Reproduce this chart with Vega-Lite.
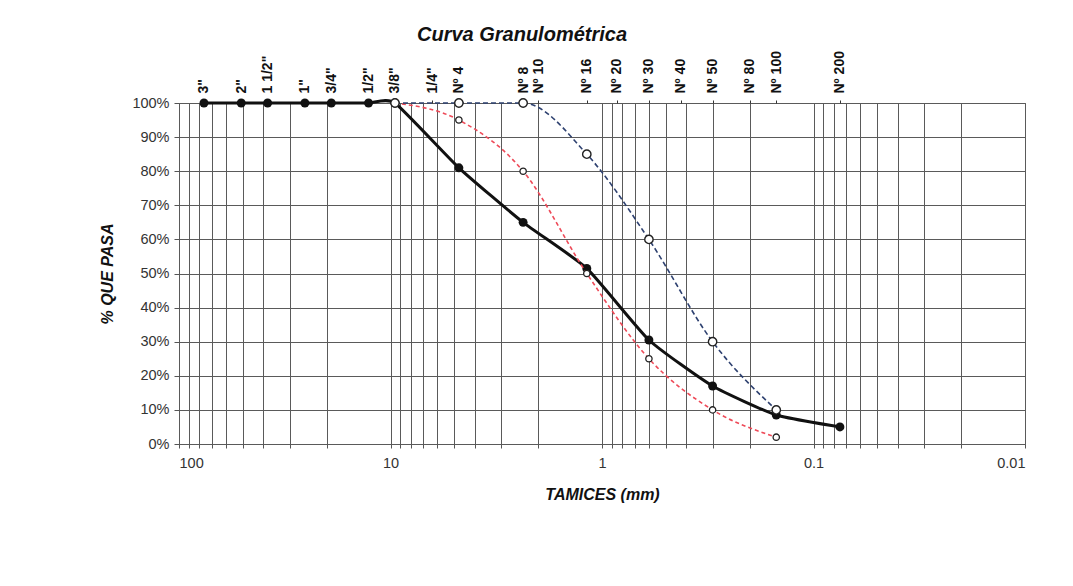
{
  "$schema": "https://vega.github.io/schema/vega-lite/v6.json",
  "width": 846,
  "height": 341,
  "autosize": {"type": "none"},
  "padding": {"left": 179, "top": 103, "right": 48, "bottom": 142},
  "background": "white",
  "title": {
    "text": "Curva Granulométrica",
    "font": "Liberation Sans",
    "fontSize": 20,
    "fontStyle": "italic",
    "fontWeight": "bold",
    "color": "#111111",
    "dx": -80,
    "offset": 6
  },
  "config": {
    "view": {"stroke": "#555555", "strokeWidth": 1},
    "axis": {
      "labelFont": "Liberation Sans",
      "titleFont": "Liberation Sans",
      "labelColor": "#333333",
      "titleColor": "#111111",
      "gridColor": "#5a5a5a",
      "gridWidth": 1,
      "gridOpacity": 1,
      "tickColor": "#555555",
      "domain": false
    }
  },
  "data": {
    "values": [
      {"serie": "Muestra", "tamiz": "3\"", "abertura": 76.2, "pasa": 1.0},
      {"serie": "Muestra", "tamiz": "2\"", "abertura": 50.8, "pasa": 1.0},
      {"serie": "Muestra", "tamiz": "1 1/2\"", "abertura": 38.1, "pasa": 1.0},
      {"serie": "Muestra", "tamiz": "1\"", "abertura": 25.4, "pasa": 1.0},
      {"serie": "Muestra", "tamiz": "3/4\"", "abertura": 19.05, "pasa": 1.0},
      {"serie": "Muestra", "tamiz": "1/2\"", "abertura": 12.7, "pasa": 1.0},
      {"serie": "Muestra", "tamiz": "3/8\"", "abertura": 9.525, "pasa": 1.0},
      {"serie": "Muestra", "tamiz": "Nº 4", "abertura": 4.75, "pasa": 0.81},
      {"serie": "Muestra", "tamiz": "Nº 8", "abertura": 2.36, "pasa": 0.65},
      {"serie": "Muestra", "tamiz": "Nº 16", "abertura": 1.18, "pasa": 0.515},
      {"serie": "Muestra", "tamiz": "Nº 30", "abertura": 0.6, "pasa": 0.305},
      {"serie": "Muestra", "tamiz": "Nº 50", "abertura": 0.3, "pasa": 0.17},
      {"serie": "Muestra", "tamiz": "Nº 100", "abertura": 0.15, "pasa": 0.085},
      {"serie": "Muestra", "tamiz": "Nº 200", "abertura": 0.075, "pasa": 0.05},
      {"serie": "Limite inferior", "tamiz": "3/8\"", "abertura": 9.525, "pasa": 1.0},
      {"serie": "Limite inferior", "tamiz": "Nº 4", "abertura": 4.75, "pasa": 0.95},
      {"serie": "Limite inferior", "tamiz": "Nº 8", "abertura": 2.36, "pasa": 0.8},
      {"serie": "Limite inferior", "tamiz": "Nº 16", "abertura": 1.18, "pasa": 0.5},
      {"serie": "Limite inferior", "tamiz": "Nº 30", "abertura": 0.6, "pasa": 0.25},
      {"serie": "Limite inferior", "tamiz": "Nº 50", "abertura": 0.3, "pasa": 0.1},
      {"serie": "Limite inferior", "tamiz": "Nº 100", "abertura": 0.15, "pasa": 0.02},
      {"serie": "Limite superior", "tamiz": "3/8\"", "abertura": 9.525, "pasa": 1.0},
      {"serie": "Limite superior", "tamiz": "Nº 4", "abertura": 4.75, "pasa": 1.0},
      {"serie": "Limite superior", "tamiz": "Nº 8", "abertura": 2.36, "pasa": 1.0},
      {"serie": "Limite superior", "tamiz": "Nº 16", "abertura": 1.18, "pasa": 0.85},
      {"serie": "Limite superior", "tamiz": "Nº 30", "abertura": 0.6, "pasa": 0.6},
      {"serie": "Limite superior", "tamiz": "Nº 50", "abertura": 0.3, "pasa": 0.3},
      {"serie": "Limite superior", "tamiz": "Nº 100", "abertura": 0.15, "pasa": 0.1}
    ]
  },
  "resolve": {"axis": {"x": "independent"}},
  "layer": [
    {
      "transform": [{"filter": "datum.serie === 'Muestra'"}],
      "mark": {"type": "line", "color": "#111111", "strokeWidth": 3, "interpolate": "cardinal", "tension": 0.5},
      "encoding": {
        "x": {
          "field": "abertura", "type": "quantitative",
          "scale": {"type": "log", "domain": [0.01, 100], "reverse": true, "nice": false},
          "axis": {
            "orient": "bottom",
            "title": "TAMICES (mm)",
            "titleFontSize": 16, "titleFontStyle": "italic", "titleFontWeight": "bold",
            "titlePadding": 17,
            "labelFontSize": 14.5,
            "labelPadding": 8,
            "tickSize": 4,
            "grid": true,
            "format": "~g",
            "values": [100, 90, 80, 70, 60, 50, 40, 30, 20, 10, 9, 8, 7, 6, 5, 4, 3, 2, 1, 0.9, 0.8, 0.7, 0.6, 0.5, 0.4, 0.3, 0.2, 0.1, 0.09, 0.08, 0.07, 0.06, 0.05, 0.04, 0.03, 0.02, 0.01],
            "labelExpr": "indexof([100, 10, 1, 0.1, 0.01], datum.value) >= 0 ? datum.label : ''",
            "labelOverlap": false
          }
        },
        "y": {
          "field": "pasa", "type": "quantitative",
          "scale": {"domain": [0, 1], "nice": false},
          "axis": {
            "title": "% QUE PASA",
            "titleFontSize": 16, "titleFontStyle": "italic", "titleFontWeight": "bold",
            "titlePadding": 16,
            "labelFontSize": 14.5,
            "labelPadding": 5,
            "tickSize": 5,
            "format": ".0%",
            "values": [0, 0.1, 0.2, 0.3, 0.4, 0.5, 0.6, 0.7, 0.8, 0.9, 1.0],
            "labelOverlap": false,
            "grid": true
          }
        },
        "order": {"field": "abertura", "sort": "descending"}
      }
    },
    {
      "transform": [{"filter": "datum.serie === 'Muestra'"}],
      "mark": {"type": "point", "filled": true, "color": "#111111", "size": 80, "opacity": 1},
      "encoding": {
        "x": {"field": "abertura", "type": "quantitative", "axis": null},
        "y": {
          "field": "pasa", "type": "quantitative",
          "axis": {
            "title": "% QUE PASA",
            "titleFontSize": 16, "titleFontStyle": "italic", "titleFontWeight": "bold",
            "titlePadding": 16,
            "labelFontSize": 14.5,
            "labelPadding": 5,
            "tickSize": 5,
            "format": ".0%",
            "values": [0, 0.1, 0.2, 0.3, 0.4, 0.5, 0.6, 0.7, 0.8, 0.9, 1.0],
            "labelOverlap": false,
            "grid": true
          }
        }
      }
    },
    {
      "transform": [{"filter": "datum.serie === 'Limite inferior'"}],
      "mark": {"type": "line", "color": "#ee4a58", "strokeWidth": 1.6, "strokeDash": [4, 3], "interpolate": "monotone"},
      "encoding": {
        "x": {
          "field": "abertura", "type": "quantitative",
          "axis": {
            "orient": "top",
            "title": null,
            "grid": false,
            "values": [76.2, 50.8, 38.1, 25.4, 19.05, 12.7, 9.525, 6.35, 4.75, 2.36, 2, 1.18, 0.85, 0.6, 0.425, 0.3, 0.2, 0.15, 0.075],
            "labelExpr": "['3\"', '2\"', '1 1/2\"', '1\"', '3/4\"', '1/2\"', '3/8\"', '1/4\"', 'Nº 4', 'Nº 8', 'Nº 10', 'Nº 16', 'Nº 20', 'Nº 30', 'Nº 40', 'Nº 50', 'Nº 80', 'Nº 100', 'Nº 200'][indexof([76.2, 50.8, 38.1, 25.4, 19.05, 12.7, 9.525, 6.35, 4.75, 2.36, 2, 1.18, 0.85, 0.6, 0.425, 0.3, 0.2, 0.15, 0.075], datum.value)]",
            "labelAngle": -90,
            "labelFontSize": 14,
            "labelFontWeight": "bold",
            "labelColor": "#111111",
            "labelPadding": 7,
            "labelOverlap": false,
            "tickSize": 3,
            "tickColor": "#333333"
          }
        },
        "y": {
          "field": "pasa", "type": "quantitative",
          "axis": {
            "title": "% QUE PASA",
            "titleFontSize": 16, "titleFontStyle": "italic", "titleFontWeight": "bold",
            "titlePadding": 16,
            "labelFontSize": 14.5,
            "labelPadding": 5,
            "tickSize": 5,
            "format": ".0%",
            "values": [0, 0.1, 0.2, 0.3, 0.4, 0.5, 0.6, 0.7, 0.8, 0.9, 1.0],
            "labelOverlap": false,
            "grid": true
          }
        },
        "order": {"field": "abertura", "sort": "descending"}
      }
    },
    {
      "transform": [{"filter": "datum.serie === 'Limite superior'"}],
      "mark": {"type": "line", "color": "#2e4170", "strokeWidth": 1.6, "strokeDash": [5, 3], "interpolate": "monotone"},
      "encoding": {
        "x": {"field": "abertura", "type": "quantitative", "axis": null},
        "y": {
          "field": "pasa", "type": "quantitative",
          "axis": {
            "title": "% QUE PASA",
            "titleFontSize": 16, "titleFontStyle": "italic", "titleFontWeight": "bold",
            "titlePadding": 16,
            "labelFontSize": 14.5,
            "labelPadding": 5,
            "tickSize": 5,
            "format": ".0%",
            "values": [0, 0.1, 0.2, 0.3, 0.4, 0.5, 0.6, 0.7, 0.8, 0.9, 1.0],
            "labelOverlap": false,
            "grid": true
          }
        },
        "order": {"field": "abertura", "sort": "descending"}
      }
    },
    {
      "transform": [{"filter": "datum.serie === 'Limite inferior'"}],
      "mark": {"type": "point", "filled": true, "fill": "white", "stroke": "#222222", "strokeWidth": 1.3, "size": 40, "opacity": 1},
      "encoding": {
        "x": {"field": "abertura", "type": "quantitative", "axis": null},
        "y": {
          "field": "pasa", "type": "quantitative",
          "axis": {
            "title": "% QUE PASA",
            "titleFontSize": 16, "titleFontStyle": "italic", "titleFontWeight": "bold",
            "titlePadding": 16,
            "labelFontSize": 14.5,
            "labelPadding": 5,
            "tickSize": 5,
            "format": ".0%",
            "values": [0, 0.1, 0.2, 0.3, 0.4, 0.5, 0.6, 0.7, 0.8, 0.9, 1.0],
            "labelOverlap": false,
            "grid": true
          }
        }
      }
    },
    {
      "transform": [{"filter": "datum.serie === 'Limite superior'"}],
      "mark": {"type": "point", "filled": true, "fill": "white", "stroke": "#222222", "strokeWidth": 1.4, "size": 70, "opacity": 1},
      "encoding": {
        "x": {"field": "abertura", "type": "quantitative", "axis": null},
        "y": {
          "field": "pasa", "type": "quantitative",
          "axis": {
            "title": "% QUE PASA",
            "titleFontSize": 16, "titleFontStyle": "italic", "titleFontWeight": "bold",
            "titlePadding": 16,
            "labelFontSize": 14.5,
            "labelPadding": 5,
            "tickSize": 5,
            "format": ".0%",
            "values": [0, 0.1, 0.2, 0.3, 0.4, 0.5, 0.6, 0.7, 0.8, 0.9, 1.0],
            "labelOverlap": false,
            "grid": true
          }
        }
      }
    }
  ]
}
